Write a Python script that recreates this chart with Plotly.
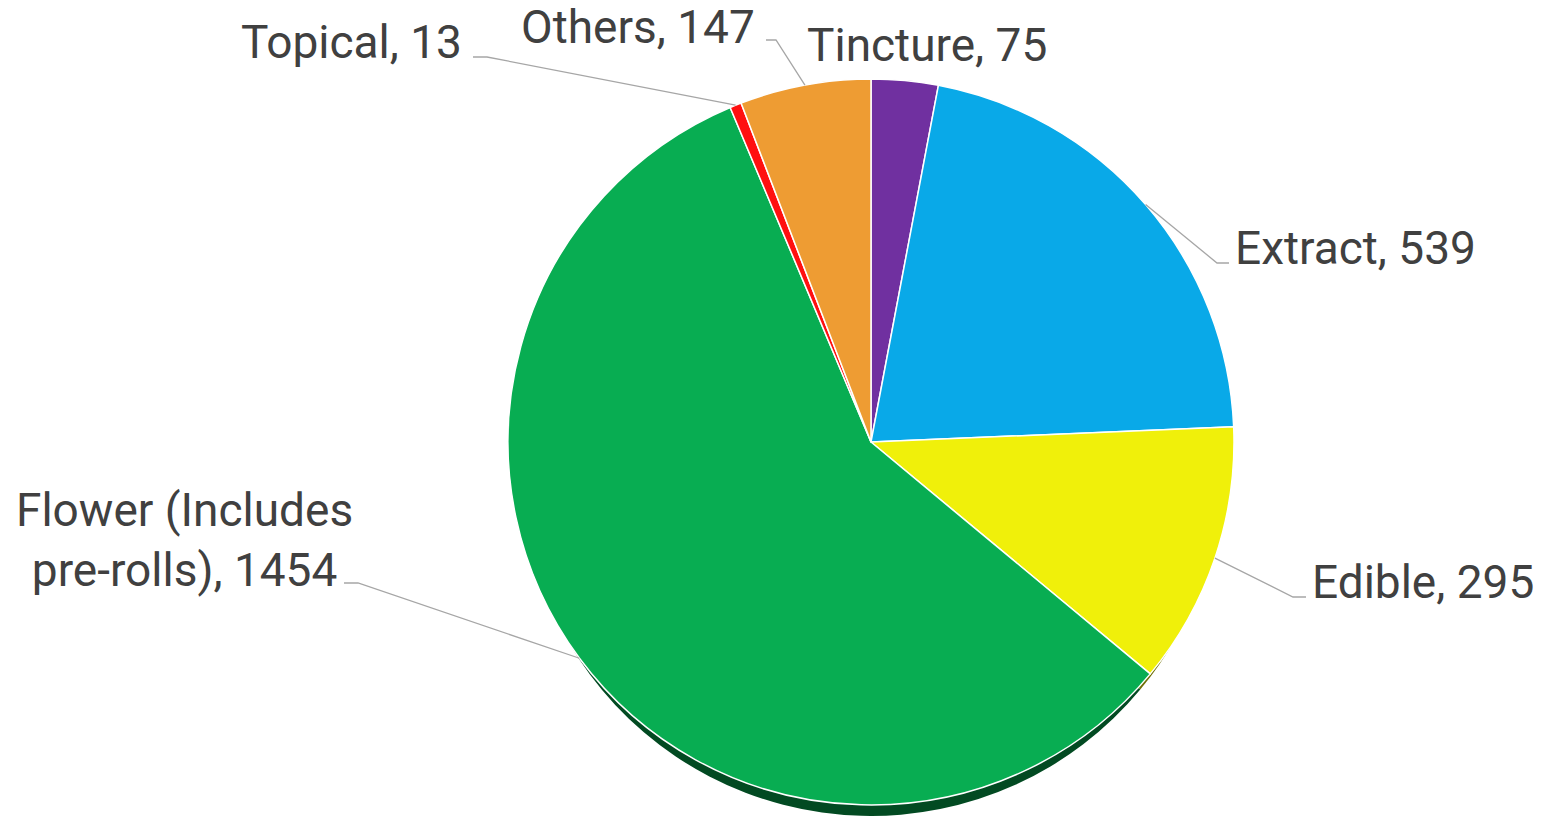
import math
import plotly.graph_objects as go

# ---- data ----
categories = ["Tincture", "Extract", "Edible", "Flower (Includes<br>pre-rolls)", "Topical", "Others"]
values = [75, 539, 295, 1454, 13, 147]
colors = ["#7030A0", "#09A9E8", "#F0F00A", "#08AD52", "#FF1010", "#EE9C33"]
shadow_colors = ["#3A1858", "#055A80", "#6E6E05", "#024A22", "#700808", "#7A4E18"]

# ---- layout constants (pixels) ----
W, H = 1547, 816
CX, CY, R = 871, 442, 363
SHADOW_DY = 24
SHADOW_SHRINK = 13
# label anchor (x, y, xanchor), elbow point and horizontal end of leader line
label_pos = [
    (805, 45, "left", None, None),
    (1233, 248, "left", (1217, 263), (1229, 263)),
    (1310, 582, "left", (1293, 597), (1306, 597)),
    (184, 540, "center", (358, 583), (344, 583)),
    (464, 42, "right", (487, 57), (473, 57)),
    (757, 27, "right", (776, 40), (766, 40)),
]

def px(x):
    return x / W

def py(y):
    return 1 - y / H

fig = go.Figure()

# shadow (bevel) pie beneath
RS = R - SHADOW_SHRINK
fig.add_trace(go.Pie(
    labels=categories, values=values, sort=False, direction="clockwise",
    marker=dict(colors=shadow_colors, line=dict(color="white", width=0)),
    textinfo="none", hoverinfo="skip", showlegend=False,
    domain=dict(x=[px(CX - RS), px(CX + RS)], y=[py(CY + SHADOW_DY + RS), py(CY + SHADOW_DY - RS)]),
))

fig.add_trace(go.Pie(
    labels=categories, values=values, sort=False, direction="clockwise",
    marker=dict(colors=colors, line=dict(color="white", width=1.5)),
    textinfo="none", hoverinfo="label+value", showlegend=False,
    domain=dict(x=[px(CX - R), px(CX + R)], y=[py(CY + R), py(CY - R)]),
))

total = sum(values)
cum = 0
shapes = []
annotations = []
for cat, v, (lx, ly, anchor, elbow, hend) in zip(categories, values, label_pos):
    mid = (cum + v / 2) / total * 2 * math.pi
    cum += v
    ex = CX + R * math.sin(mid)
    ey = CY - R * math.cos(mid)
    if elbow is not None:
        path = f"M {px(ex)} {py(ey)} L {px(elbow[0])} {py(elbow[1])} L {px(hend[0])} {py(hend[1])}"
        shapes.append(dict(type="path", xref="paper", yref="paper", path=path,
                           line=dict(color="#A6A6A6", width=1.3)))
    annotations.append(dict(
        x=px(lx), y=py(ly), xref="paper", yref="paper", xanchor=anchor, yanchor="middle",
        text=f"{cat}, {v}", showarrow=False, align="center",
        font=dict(family="Roboto", size=46, color="#404040"),
    ))

fig.update_layout(
    width=W, height=H,
    margin=dict(l=0, r=0, t=0, b=0),
    paper_bgcolor="white", plot_bgcolor="white",
    shapes=shapes, annotations=annotations,
)

fig.write_html("out.html", config={"displayModeBar": False},
               post_script="document.body.style.margin='0px';")
